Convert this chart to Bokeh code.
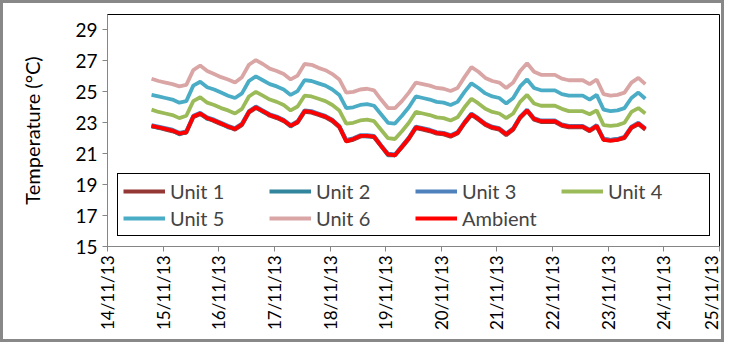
import math
import pandas as pd
from bokeh.plotting import figure
from bokeh.models import (FixedTicker, DatetimeTickFormatter, Legend, LegendItem,
                          Range1d, ColumnDataSource)
from bokeh.embed import file_html
from bokeh.resources import INLINE

# ---- data (3-hourly samples from 14/11/13 19:00) ----
start_time = "2013-11-14 19:00"
step_hours = 3

ambient = [22.8, 22.7, 22.6, 22.5, 22.3, 22.4, 23.4, 23.6, 23.3, 23.15,
           22.95, 22.75, 22.6, 22.9, 23.7, 24.0, 23.75, 23.5, 23.35, 23.15,
           22.8, 23.05, 23.75, 23.7, 23.55, 23.4, 23.15, 22.75, 21.8, 21.95,
           22.15, 22.15, 22.1, 21.5, 20.95, 20.9, 21.45, 22.0, 22.7, 22.6,
           22.5, 22.35, 22.3, 22.15, 22.35, 23.0, 23.55, 23.25, 22.9, 22.7,
           22.6, 22.25, 22.6, 23.35, 23.8, 23.25, 23.1, 23.1, 23.1, 22.85,
           22.75, 22.75, 22.75, 22.5, 22.8, 21.9, 21.85, 21.9, 22.05, 22.7,
           22.95, 22.6]

unit1 = [22.75, 22.7, 22.55, 22.45, 22.3, 22.35, 23.35, 23.55, 23.3, 23.1,
         22.9, 22.75, 22.55, 22.85, 23.65, 23.95, 23.75, 23.45, 23.3, 23.1,
         22.8, 23.0, 23.7, 23.65, 23.5, 23.35, 23.1, 22.7, 21.8, 21.9,
         22.1, 22.15, 22.05, 21.5, 20.95, 20.9, 21.4, 21.95, 22.65, 22.55,
         22.45, 22.3, 22.25, 22.1, 22.3, 22.95, 23.5, 23.2, 22.85, 22.65,
         22.55, 22.2, 22.55, 23.3, 23.75, 23.2, 23.05, 23.05, 23.05, 22.8,
         22.7, 22.7, 22.7, 22.45, 22.75, 21.9, 21.85, 21.9, 22.0, 22.65,
         22.9, 22.55]

unit2 = [22.8, 22.65, 22.6, 22.5, 22.25, 22.4, 23.4, 23.6, 23.25, 23.15,
         22.95, 22.7, 22.6, 22.9, 23.7, 24.0, 23.7, 23.5, 23.35, 23.15,
         22.75, 23.05, 23.75, 23.7, 23.55, 23.4, 23.15, 22.75, 21.85, 21.95,
         22.15, 22.1, 22.1, 21.5, 20.9, 20.9, 21.45, 22.0, 22.7, 22.6,
         22.5, 22.35, 22.3, 22.15, 22.35, 23.0, 23.55, 23.25, 22.9, 22.7,
         22.6, 22.25, 22.6, 23.35, 23.8, 23.25, 23.1, 23.1, 23.1, 22.85,
         22.75, 22.75, 22.75, 22.5, 22.8, 21.95, 21.9, 21.95, 22.05, 22.7,
         22.95, 22.6]

unit3 = [22.85, 22.75, 22.65, 22.55, 22.35, 22.45, 23.45, 23.65, 23.35, 23.2,
         23.0, 22.8, 22.65, 22.95, 23.75, 24.05, 23.8, 23.55, 23.4, 23.2,
         22.85, 23.1, 23.8, 23.75, 23.6, 23.45, 23.2, 22.8, 21.9, 22.0,
         22.2, 22.2, 22.15, 21.55, 21.0, 20.95, 21.5, 22.05, 22.75, 22.65,
         22.55, 22.4, 22.35, 22.2, 22.4, 23.05, 23.6, 23.3, 22.95, 22.75,
         22.65, 22.3, 22.65, 23.4, 23.85, 23.3, 23.15, 23.15, 23.15, 22.9,
         22.8, 22.8, 22.8, 22.55, 22.85, 21.95, 21.9, 21.95, 22.1, 22.75,
         23.0, 22.65]

unit4 = [23.85, 23.7, 23.6, 23.5, 23.3, 23.45, 24.4, 24.65, 24.3, 24.15,
         23.95, 23.8, 23.6, 23.9, 24.7, 25.0, 24.75, 24.5, 24.35, 24.15,
         23.8, 24.05, 24.75, 24.7, 24.55, 24.4, 24.15, 23.8, 22.95, 23.0,
         23.15, 23.2, 23.1, 22.55, 22.0, 21.95, 22.45, 23.0, 23.7, 23.6,
         23.5, 23.35, 23.3, 23.15, 23.35, 24.0, 24.55, 24.25, 23.9, 23.7,
         23.6, 23.3, 23.6, 24.35, 24.8, 24.25, 24.1, 24.1, 24.1, 23.9,
         23.75, 23.75, 23.75, 23.55, 23.8, 22.85, 22.8, 22.85, 23.0, 23.7,
         23.95, 23.6]

unit5 = [24.8, 24.7, 24.6, 24.5, 24.3, 24.4, 25.4, 25.65, 25.3, 25.15,
         24.95, 24.75, 24.6, 24.9, 25.7, 26.0, 25.75, 25.5, 25.35, 25.15,
         24.8, 25.05, 25.75, 25.7, 25.55, 25.4, 25.15, 24.8, 23.95, 24.0,
         24.15, 24.2, 24.1, 23.55, 23.0, 22.95, 23.45, 24.0, 24.7, 24.6,
         24.5, 24.35, 24.3, 24.15, 24.35, 25.0, 25.55, 25.25, 24.9, 24.7,
         24.6, 24.25, 24.6, 25.35, 25.8, 25.25, 25.1, 25.1, 25.1, 24.85,
         24.75, 24.75, 24.75, 24.5, 24.8, 23.85, 23.75, 23.8, 23.95, 24.6,
         24.95, 24.55]

unit6 = [25.85, 25.7, 25.6, 25.5, 25.35, 25.45, 26.4, 26.7, 26.35, 26.15,
         25.95, 25.8, 25.6, 25.95, 26.75, 27.05, 26.8, 26.5, 26.35, 26.15,
         25.8, 26.05, 26.8, 26.75, 26.55, 26.4, 26.15, 25.8, 24.95, 25.0,
         25.15, 25.2, 25.1, 24.5, 23.95, 23.95, 24.4, 24.95, 25.6, 25.5,
         25.4, 25.25, 25.2, 25.05, 25.25, 25.95, 26.6, 26.3, 25.9, 25.7,
         25.6, 25.25, 25.6, 26.35, 26.85, 26.3, 26.1, 26.1, 26.1, 25.85,
         25.75, 25.75, 25.75, 25.5, 25.8, 24.85, 24.75, 24.8, 24.95, 25.6,
         25.9, 25.5]

series_names = ["Unit 1", "Unit 2", "Unit 3", "Unit 4", "Unit 5", "Unit 6", "Ambient"]
series_values = [unit1, unit2, unit3, unit4, unit5, unit6, ambient]
series_colors = ["#953735", "#31859C", "#4F81BD", "#9BBB59", "#4BACC6", "#D9A6A5", "#FF0000"]

x_tick_dates = ["2013-11-14", "2013-11-15", "2013-11-16", "2013-11-17", "2013-11-18",
                "2013-11-19", "2013-11-20", "2013-11-21", "2013-11-22", "2013-11-23",
                "2013-11-24", "2013-11-25"]
y_ticks = [15, 17, 19, 21, 23, 25, 27, 29]

# ---- build ----
times = pd.date_range(start_time, periods=len(ambient), freq=f"{step_hours}h")
src = ColumnDataSource(dict(t=times, **{f"s{i}": v for i, v in enumerate(series_values)}))

FONT = "Lato"
p = figure(width=724, height=342, x_axis_type="datetime",
           x_range=Range1d(pd.Timestamp(x_tick_dates[0]), pd.Timestamp(x_tick_dates[-1])),
           y_range=Range1d(15, 30),
           output_backend="svg", toolbar_location=None,
           min_border_left=104, min_border_right=8, min_border_top=11, min_border_bottom=99,
           styles={"border": "3px solid #888888"})

p.xgrid.visible = False
p.ygrid.visible = False
p.outline_line_color = "black"
p.outline_line_width = 1
p.outline_line_alpha = 1.0
p.background_fill_color = "white"
p.border_fill_color = "white"

renderers = []
for i, (name, col) in enumerate(zip(series_names, series_colors)):
    r = p.line("t", f"s{i}", source=src, line_color=col, line_width=3.8)
    renderers.append(r)

for ax in (p.xaxis[0], p.yaxis[0]):
    ax.axis_line_color = "#868686"
    ax.major_tick_line_color = "#868686"
    ax.major_tick_out = 5
    ax.major_tick_in = 0
    ax.minor_tick_out = 0
    ax.minor_tick_in = 0
    ax.major_label_text_font = FONT
    ax.major_label_text_color = "black"

p.yaxis.ticker = FixedTicker(ticks=y_ticks)
p.yaxis.major_label_text_font_size = "19px"
p.yaxis.axis_label = "Temperature (°C)"
p.yaxis.axis_label_text_font = FONT
p.yaxis.axis_label_text_font_size = "20px"
p.yaxis.axis_label_text_font_style = "normal"
p.yaxis.axis_label_text_color = "black"
p.yaxis.axis_label_standoff = 28

p.xaxis.ticker = FixedTicker(ticks=[pd.Timestamp(d).timestamp() * 1000 for d in x_tick_dates])
fmt = "%d/%m/%y"
p.xaxis.formatter = DatetimeTickFormatter(days=fmt, months=fmt, years=fmt, hours=fmt,
                                          hourmin=fmt, minutes=fmt, minsec=fmt, seconds=fmt,
                                          milliseconds=fmt, microseconds=fmt)
p.xaxis.major_label_orientation = math.pi / 2
p.xaxis.major_label_text_font_size = "17px"
p.xaxis.major_label_standoff = 4

legend = Legend(items=[LegendItem(label=n, renderers=[r]) for n, r in zip(series_names, renderers)],
                location=(10, 10), orientation="horizontal", ncols=4,
                border_line_color="black", border_line_width=1, border_line_alpha=1.0,
                background_fill_color="white", background_fill_alpha=1.0,
                glyph_width=42, glyph_height=20, label_height=20, label_width=96,
                label_standoff=5, spacing=3, padding=5, margin=0,
                label_text_font=FONT, label_text_font_size="20px")
p.add_layout(legend, "center")

open("out.html", "w").write(file_html(p, INLINE))
